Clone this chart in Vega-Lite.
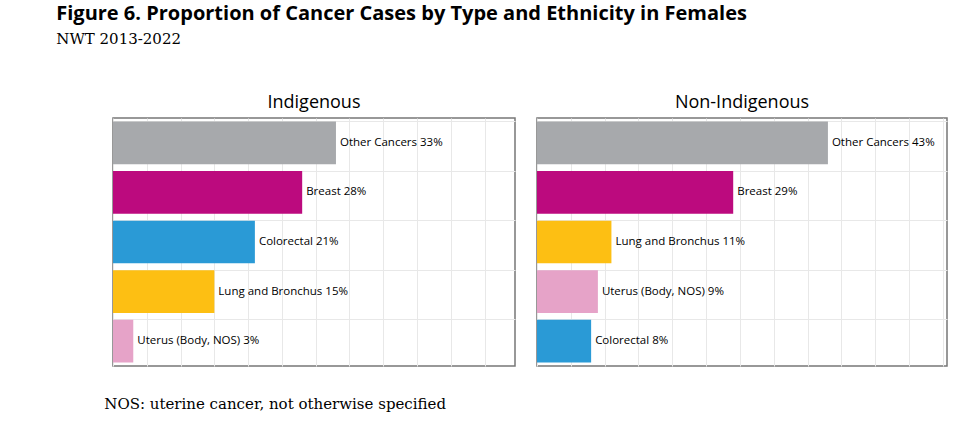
{
"$schema":"https://vega.github.io/schema/vega-lite/v6.json",
"padding":{"left":56,"top":4,"right":5,"bottom":5},
"background":"white",
"title":{"text":"Figure 6. Proportion of Cancer Cases by Type and Ethnicity in Females","subtitle":"NWT 2013-2022","anchor":"start","dx":-48,"font":"Open Sans","fontSize":20,"fontWeight":"bold","color":"#000","subtitleFont":"DejaVu Serif","subtitleFontSize":15,"subtitleColor":"#000","subtitlePadding":8,"offset":46},
"datasets":{"d":[
{"group":"Indigenous","type":"Other Cancers","pct":33,"label":"Other Cancers 33%"},
{"group":"Indigenous","type":"Breast","pct":28,"label":"Breast 28%"},
{"group":"Indigenous","type":"Colorectal","pct":21,"label":"Colorectal 21%"},
{"group":"Indigenous","type":"Lung and Bronchus","pct":15,"label":"Lung and Bronchus 15%"},
{"group":"Indigenous","type":"Uterus (Body, NOS)","pct":3,"label":"Uterus (Body, NOS) 3%"},
{"group":"Non-Indigenous","type":"Other Cancers","pct":43,"label":"Other Cancers 43%"},
{"group":"Non-Indigenous","type":"Breast","pct":29,"label":"Breast 29%"},
{"group":"Non-Indigenous","type":"Lung and Bronchus","pct":11,"label":"Lung and Bronchus 11%"},
{"group":"Non-Indigenous","type":"Uterus (Body, NOS)","pct":9,"label":"Uterus (Body, NOS) 9%"},
{"group":"Non-Indigenous","type":"Colorectal","pct":8,"label":"Colorectal 8%"}
]},
"vconcat":[{
"title":{"text":"NOS: uterine cancer, not otherwise specified","orient":"bottom","anchor":"start","font":"DejaVu Serif","fontSize":15,"fontWeight":"normal","color":"#000","offset":30,"dx":-8},
"spacing":20,
"hconcat":[
{"title":{"text":"Indigenous"},"width":402,"height":248,"data":{"name":"d"},"transform":[{"filter":"datum.group==='Indigenous'"}],
"encoding":{"y":{"field":"type","type":"nominal","sort":{"field":"pct","order":"descending"},"scale":{"paddingInner":0.14,"paddingOuter":0.07},"axis":{"labels":false,"ticks":false,"domain":false,"title":null,"grid":true,"gridColor":"#e8e8e8","bandPosition":0}},
"x":{"field":"pct","type":"quantitative","scale":{"domain":[0,59.5]},"axis":{"labels":false,"ticks":false,"domain":false,"title":null,"grid":true,"gridColor":"#e8e8e8","values":[0,5,10,15,20,25,30,35,40,45,50,55]}}},
"layer":[{"mark":{"type":"bar"},"encoding":{"color":{"field":"type","type":"nominal","legend":null,"scale":{"domain":["Other Cancers","Breast","Colorectal","Lung and Bronchus","Uterus (Body, NOS)"],"range":["#a7a9ac","#bc0a7e","#2a9ad6","#fdbf13","#e6a3c8"]}}}},
{"mark":{"type":"text","align":"left","dx":4,"font":"Open Sans","fontSize":11.5,"color":"#000"},"encoding":{"text":{"field":"label"}}}]},
{"title":{"text":"Non-Indigenous"},"width":410,"height":248,"data":{"name":"d"},"transform":[{"filter":"datum.group==='Non-Indigenous'"}],
"encoding":{"y":{"field":"type","type":"nominal","sort":{"field":"pct","order":"descending"},"scale":{"paddingInner":0.14,"paddingOuter":0.07},"axis":{"labels":false,"ticks":false,"domain":false,"title":null,"grid":true,"gridColor":"#e8e8e8","bandPosition":0}},
"x":{"field":"pct","type":"quantitative","scale":{"domain":[0,60.6]},"axis":{"labels":false,"ticks":false,"domain":false,"title":null,"grid":true,"gridColor":"#e8e8e8","values":[0,5,10,15,20,25,30,35,40,45,50,55,60]}}},
"layer":[{"mark":{"type":"bar"},"encoding":{"color":{"field":"type","type":"nominal","legend":null,"scale":{"domain":["Other Cancers","Breast","Colorectal","Lung and Bronchus","Uterus (Body, NOS)"],"range":["#a7a9ac","#bc0a7e","#2a9ad6","#fdbf13","#e6a3c8"]}}}},
{"mark":{"type":"text","align":"left","dx":4,"font":"Open Sans","fontSize":11.5,"color":"#000"},"encoding":{"text":{"field":"label"}}}]}
]}],
"config":{"view":{"stroke":"#777","strokeWidth":1.5},"title":{"font":"Open Sans","fontSize":18,"fontWeight":"normal","color":"#000","offset":6},"concat":{"spacing":10}}
}
